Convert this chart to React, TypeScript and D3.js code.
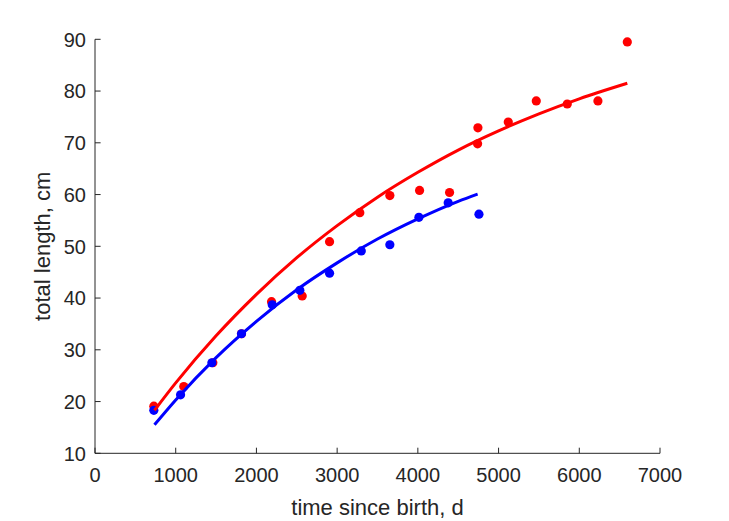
import React from "react";
import * as d3 from "d3";

const xTicks = [0, 1000, 2000, 3000, 4000, 5000, 6000, 7000];
const yTicks = [10, 20, 30, 40, 50, 60, 70, 80, 90];

const redAge = [729, 1100, 1460, 1815, 2187, 2567, 2906, 3281, 3653, 4021, 4393, 4740, 4744, 5120, 5467, 5851, 6231, 6595];
const redLen = [19.1, 22.9, 27.5, 33.1, 39.3, 40.4, 50.9, 56.5, 59.8, 60.8, 60.4, 69.8, 72.9, 74.0, 78.1, 77.5, 78.1, 89.5];

const blueAge = [729, 1060, 1448, 1815, 2196, 2538, 2906, 3299, 3653, 4013, 4376, 4757];
const blueLen = [18.3, 21.3, 27.5, 33.1, 38.7, 41.5, 44.8, 49.1, 50.3, 55.6, 58.4, 56.2];

// fitted curves
const redFitAge = [737, 1000, 1500, 2000, 2500, 3000, 3500, 4000, 4500, 5000, 5500, 6000, 6595];
const redFitLen = [18.3, 23.6, 32.7, 40.7, 47.8, 54.0, 59.5, 64.3, 68.6, 72.3, 75.6, 78.5, 81.5];

const blueFitAge = [737, 1000, 1500, 2000, 2500, 3000, 3500, 4000, 4500, 4740];
const blueFitLen = [15.5, 20.3, 28.5, 35.5, 41.6, 46.8, 51.4, 55.3, 58.7, 60.1];

const W = 729;
const H = 521;
const left = 95;
const right = 660;
const top = 39.3;
const bottom = 453.3;
const axisColor = "#262626";
const font = "'Liberation Sans', Arial, Helvetica, sans-serif";

export default function App() {
  const x = d3.scaleLinear().domain([0, 7000]).range([left, right]);
  const y = d3.scaleLinear().domain([10, 90]).range([bottom, top]);
  const line = d3
    .line<[number, number]>()
    .x((d) => x(d[0]))
    .y((d) => y(d[1]))
    .curve(d3.curveMonotoneX);

  const redFit = redFitAge.map((a, i) => [a, redFitLen[i]] as [number, number]);
  const blueFit = blueFitAge.map((a, i) => [a, blueFitLen[i]] as [number, number]);
  const tickLen = 5.6;

  return (
    <div style={{ position: "absolute", left: 0, top: 0 }}>
      <svg width={W} height={H} style={{ display: "block", background: "#fff" }}>
        {/* markers */}
        {redAge.map((a, i) => (
          <circle key={"r" + i} cx={x(a)} cy={y(redLen[i])} r={4.6} fill="#ff0000" />
        ))}
        {blueAge.map((a, i) => (
          <circle key={"b" + i} cx={x(a)} cy={y(blueLen[i])} r={4.6} fill="#0000ff" />
        ))}
        {/* fitted lines */}
        <path d={line(redFit) || ""} fill="none" stroke="#ff0000" strokeWidth={3} />
        <path d={line(blueFit) || ""} fill="none" stroke="#0000ff" strokeWidth={3} />

        {/* axes */}
        <line x1={left} x2={right} y1={bottom} y2={bottom} stroke={axisColor} strokeWidth={1} />
        <line x1={left} x2={left} y1={top} y2={bottom} stroke={axisColor} strokeWidth={1} />
        {xTicks.map((t) => (
          <g key={"xt" + t}>
            <line x1={x(t)} x2={x(t)} y1={bottom} y2={bottom - tickLen} stroke={axisColor} strokeWidth={1} />
            <text
              x={x(t)}
              y={481.5}
              textAnchor="middle"
              fontFamily={font}
              fontSize={20}
              fill={axisColor}
            >
              {t}
            </text>
          </g>
        ))}
        {yTicks.map((t) => (
          <g key={"yt" + t}>
            <line x1={left} x2={left + tickLen} y1={y(t)} y2={y(t)} stroke={axisColor} strokeWidth={1} />
            <text
              x={86}
              y={y(t)}
              dy="0.36em"
              textAnchor="end"
              fontFamily={font}
              fontSize={20}
              fill={axisColor}
            >
              {t}
            </text>
          </g>
        ))}
        <text
          x={(left + right) / 2}
          y={515}
          textAnchor="middle"
          fontFamily={font}
          fontSize={22}
          fill={axisColor}
        >
          time since birth, d
        </text>
        <text
          transform={`translate(50, ${(top + bottom) / 2}) rotate(-90)`}
          textAnchor="middle"
          fontFamily={font}
          fontSize={22}
          fill={axisColor}
        >
          total length, cm
        </text>
      </svg>
    </div>
  );
}
